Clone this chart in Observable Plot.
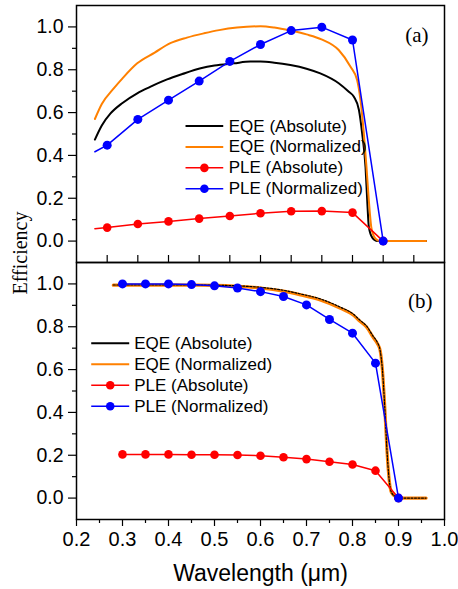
<!DOCTYPE html>
<html><head><meta charset="utf-8">
<script src="https://cdn.jsdelivr.net/npm/d3@7"></script>
<script src="https://cdn.jsdelivr.net/npm/@observablehq/plot@0.6"></script>
<style>
body{margin:0;background:#fff;}
#wrap{position:relative;width:458px;height:589px;overflow:hidden;background:#fff;}
#wrap svg{position:absolute;left:0;overflow:visible;}
#ylab{position:absolute;font-family:"Liberation Serif","Times New Roman",serif;font-size:20px;left:20px;top:253px;transform:translate(-50%,-50%) rotate(-90deg);white-space:nowrap;color:#000;}
</style></head><body><div id="wrap"><div id="ylab">Efficiency</div></div>
<script>
// ---------- Panel (a) data ----------
const eqeAbsA_x = [0.24,0.255,0.274,0.30,0.332,0.36,0.397,0.43,0.47,0.50,0.542,0.578,0.60,0.63,0.665,0.70,0.730,0.770,0.792,0.803,0.814,0.821,0.8283,0.832,0.8355,0.843,0.854,0.90,0.96];
const eqeAbsA_y = [0.474,0.54,0.596,0.645,0.69,0.72,0.755,0.78,0.807,0.82,0.83,0.838,0.838,0.833,0.822,0.805,0.783,0.737,0.697,0.674,0.612,0.503,0.346,0.19,0.066,0.016,0,0,0];
const eqeNormA_x = [0.24,0.255,0.281,0.30,0.332,0.37,0.404,0.44,0.477,0.51,0.549,0.60,0.63,0.665,0.70,0.7326,0.770,0.7957,0.81,0.8174,0.8246,0.8304,0.8355,0.8407,0.845,0.85,0.86,0.90,0.96];
const eqeNormA_y = [0.57,0.64,0.713,0.76,0.83,0.88,0.924,0.95,0.97,0.985,0.997,1.003,0.997,0.983,0.965,0.942,0.892,0.814,0.752,0.658,0.503,0.346,0.19,0.066,0.03,0.011,0,0,0];
const pleA_x = [0.24,0.2667,0.3333,0.40,0.4667,0.5333,0.60,0.6667,0.7333,0.80,0.8667];
const pleAbsA_y = [0.058,0.063,0.080,0.092,0.105,0.117,0.130,0.139,0.140,0.133,0.0];
const pleNormA_y = [0.417,0.448,0.568,0.658,0.747,0.839,0.918,0.983,0.999,0.939,0.0];
const xTicksA = [0.2667,0.3333,0.40,0.4667,0.5333,0.60,0.6667,0.7333,0.80,0.8667,0.9333];

// ---------- Panel (b) data ----------
const eqeB_x = [0.28,0.30,0.35,0.40,0.45,0.50,0.55,0.60,0.65,0.687,0.73,0.774,0.80,0.817,0.83,0.845,0.854,0.86,0.865,0.87,0.875,0.88,0.885,0.895,0.90,0.96];
const eqeAbsB_y = [0.995,0.995,0.995,0.995,0.995,0.994,0.991,0.984,0.970,0.953,0.930,0.891,0.862,0.829,0.805,0.755,0.727,0.69,0.60,0.43,0.22,0.08,0.025,0.005,0,0];
const eqeNormB_y = [0.994,0.994,0.994,0.994,0.994,0.993,0.989,0.981,0.966,0.949,0.925,0.886,0.857,0.824,0.80,0.75,0.722,0.69,0.60,0.43,0.22,0.08,0.025,0.005,0,0];
const pleB_x = [0.30,0.35,0.40,0.45,0.50,0.55,0.60,0.65,0.70,0.75,0.80,0.85,0.90];
const pleAbsB_y = [0.204,0.204,0.204,0.202,0.202,0.201,0.198,0.191,0.182,0.170,0.157,0.128,0.0];
const pleNormB_y = [1.0,1.0,1.0,0.997,0.991,0.981,0.964,0.941,0.902,0.834,0.770,0.630,0.0];

// ---------- axes / legend ----------
const xMajor = [0.2,0.3,0.4,0.5,0.6,0.7,0.8,0.9,1.0];
const xMinor = [0.25,0.35,0.45,0.55,0.65,0.75,0.85,0.95];
const yMajor = [0.0,0.2,0.4,0.6,0.8,1.0];
const yMinor = [0.1,0.3,0.5,0.7,0.9];
const legendLabels = ["EQE (Absolute)","EQE (Normalized)","PLE (Absolute)","PLE (Normalized)"];
const seriesColors = ["#000000","#ff8000","#ff0000","#0000ff"];
const legendMarkers = [false,false,true,true];

const sans = "Liberation Sans, Arial, sans-serif";
const serif = "Liberation Serif, Times New Roman, serif";
const pts = (xs, ys) => xs.map((x, i) => ({x, y: ys[i]}));

function legend(pos) {
  return legendLabels.flatMap((label, i) => {
    const y = pos.y0 - i * pos.step;
    const m = [
      Plot.link([0], {x1: pos.x1, x2: pos.x2, y1: y, y2: y, stroke: seriesColors[i], strokeWidth: legendMarkers[i] ? 1.5 : 2})
    ];
    if (legendMarkers[i]) m.push(Plot.dot([0], {x: (pos.x1 + pos.x2) / 2, y, r: 4.3, fill: seriesColors[i], stroke: "none"}));
    m.push(Plot.text([label], {x: pos.tx, y, text: d => d, textAnchor: "start", lineAnchor: "middle", fontSize: 17, fontFamily: sans, fill: "#000"}));
    return m;
  });
}

function yAxes() {
  return [
    Plot.axisY(yMajor, {tickSize: 8, tickPadding: 5, fontSize: 19.5, fontFamily: sans, tickFormat: d3.format(".1f"), label: null, strokeWidth: 1.2}),
    Plot.axisY(yMinor, {tickSize: 4, tickFormat: () => "", label: null, strokeWidth: 1.2})
  ];
}

const common = {
  width: 458, marginLeft: 76, marginRight: 14,
  x: {domain: [0.2, 1.0]}, y: {domain: [-0.1, 1.1]},
  style: {fontFamily: sans, background: "transparent", color: "#000", overflow: "visible"}
};

const plotA = Plot.plot({
  ...common, height: 264, marginTop: 5, marginBottom: 2,
  marks: [
    ...yAxes(),
    Plot.axisX(xTicksA, {tickSize: 7, dy: -7, tickFormat: () => "", label: null, strokeWidth: 1.2}),
    Plot.line(pts(eqeAbsA_x, eqeAbsA_y), {x: "x", y: "y", stroke: seriesColors[0], strokeWidth: 2, curve: "monotone-x"}),
    Plot.line(pts(eqeNormA_x, eqeNormA_y), {x: "x", y: "y", stroke: seriesColors[1], strokeWidth: 2, curve: "monotone-x"}),
    Plot.line(pts(pleA_x, pleAbsA_y), {x: "x", y: "y", stroke: seriesColors[2], strokeWidth: 1.5}),
    Plot.dot(pts(pleA_x, pleAbsA_y), {filter: (d, i) => i > 0, x: "x", y: "y", r: 4.3, fill: seriesColors[2], stroke: "none"}),
    Plot.line(pts(pleA_x, pleNormA_y), {x: "x", y: "y", stroke: seriesColors[3], strokeWidth: 1.5}),
    Plot.dot(pts(pleA_x, pleNormA_y), {filter: (d, i) => i > 0, x: "x", y: "y", r: 4.5, fill: seriesColors[3], stroke: "none"}),
    ...legend({x1: 0.437, x2: 0.519, tx: 0.531, y0: 0.537, step: 0.0975}),
    Plot.text(["(a)"], {frameAnchor: "top-right", dx: -16, dy: 30, text: d => d, textAnchor: "end", lineAnchor: "middle", fontSize: 21, fontFamily: serif, fill: "#000"}),
    Plot.frame({stroke: "#000", strokeWidth: 1.5})
  ]
});

const plotB = Plot.plot({
  ...common, height: 329, marginTop: 2, marginBottom: 70,
  marks: [
    ...yAxes(),
    Plot.axisX(xMajor, {tickSize: 7, tickPadding: 5, fontSize: 20, fontFamily: sans, tickFormat: d3.format(".1f"), label: null, strokeWidth: 1.2}),
    Plot.axisX(xMinor, {tickSize: 4, tickFormat: () => "", label: null, strokeWidth: 1.2}),
    Plot.line(pts(eqeB_x, eqeNormB_y), {x: "x", y: "y", stroke: seriesColors[1], strokeWidth: 3.2, curve: "monotone-x"}),
    Plot.line(pts(eqeB_x, eqeAbsB_y), {x: "x", y: "y", stroke: seriesColors[0], strokeWidth: 1.2, strokeDasharray: "2,1.5", curve: "monotone-x"}),
    Plot.line(pts(pleB_x, pleAbsB_y), {x: "x", y: "y", stroke: seriesColors[2], strokeWidth: 1.5}),
    Plot.dot(pts(pleB_x, pleAbsB_y), {x: "x", y: "y", r: 4.3, fill: seriesColors[2], stroke: "none"}),
    Plot.line(pts(pleB_x, pleNormB_y), {x: "x", y: "y", stroke: seriesColors[3], strokeWidth: 1.5}),
    Plot.dot(pts(pleB_x, pleNormB_y), {x: "x", y: "y", r: 4.5, fill: seriesColors[3], stroke: "none"}),
    ...legend({x1: 0.232, x2: 0.3146, tx: 0.3254, y0: 0.7225, step: 0.0978}),
    Plot.text(["(b)"], {frameAnchor: "top-right", dx: -12, dy: 39, text: d => d, textAnchor: "end", lineAnchor: "middle", fontSize: 21, fontFamily: serif, fill: "#000"}),
    Plot.text(["Wavelength (μm)"], {frameAnchor: "bottom", dy: 54, text: d => d, textAnchor: "middle", lineAnchor: "middle", fontSize: 23, fontFamily: sans, fill: "#000"}),
    Plot.frame({stroke: "#000", strokeWidth: 1.5})
  ]
});

const wrap = document.getElementById("wrap");
plotA.style.top = "0px";
plotB.style.top = "260px";
wrap.appendChild(plotA);
wrap.appendChild(plotB);
</script>
</body></html>
